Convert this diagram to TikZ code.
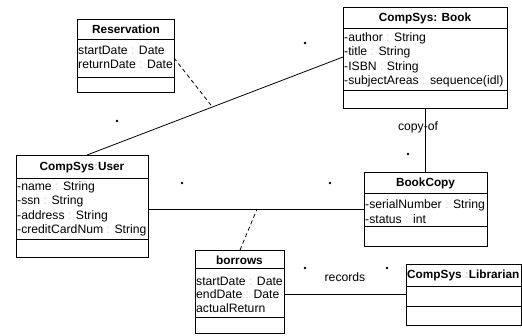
\documentclass[tikz,border=0pt]{standalone}
\usepackage{fontspec}
\setmainfont{Liberation Sans}
\usetikzlibrary{calc}
\newcommand\cln{\textcolor{gray!35}{:}}
\begin{document}
\begin{tikzpicture}[x=1pt,y=-1pt,
  classbox/.style={draw, line width=0.9pt, anchor=north west, inner sep=0pt, outer sep=0pt},
  ttl/.style={font=\fontsize{11.8}{13}\selectfont\bfseries, inner sep=0pt},
  attr/.style={font=\fontsize{12.2}{13}\selectfont, anchor=west, inner sep=0pt},
  lbl/.style={font=\fontsize{12.2}{13}\selectfont, inner sep=0pt},
  conn/.style={line width=0.8pt},
  assocdash/.style={line width=0.8pt, dash pattern=on 4pt off 3pt},
  mult/.style={circle, fill, inner sep=0pt, minimum size=2.6pt}]
\useasboundingbox (0,0) rectangle (522,335);
\fill[white] (0,0) rectangle (522,335);

% Reservation
\node[classbox, minimum width=97pt, minimum height=73pt] (res) at (77,19) {};
\draw[line width=0.9pt] ($(res.north west)+(0,20)$) -- ($(res.north east)+(0,20)$);
\draw[line width=0.9pt] ($(res.north west)+(0,58)$) -- ($(res.north east)+(0,58)$);
\node[ttl] (resT) at (126,29) {Reservation};
\node[attr] (resA1) at (78,50) {startDate \cln{} Date};
\node[attr] (resA2) at (78,64.5) {returnDate \cln{} Date};

% Book
\node[classbox, minimum width=164pt, minimum height=101pt] (book) at (343,7) {};
\draw[line width=0.9pt] ($(book.north west)+(0,21)$) -- ($(book.north east)+(0,21)$);
\draw[line width=0.9pt] ($(book.north west)+(0,83)$) -- ($(book.north east)+(0,83)$);
\node[ttl] (bookT) at (425,18) {CompSys: Book};
\node[attr] (bookA1) at (344,38) {-author \cln{} String};
\node[attr] (bookA2) at (344,52.5) {-title \cln{} String};
\node[attr] (bookA3) at (344,67) {-ISBN \cln{} String};
\node[attr] (bookA4) at (344,81.5) {-subjectAreas \cln{} sequence(idl)};

% User
\node[classbox, minimum width=132pt, minimum height=102pt] (user) at (16,155) {};
\draw[line width=0.9pt] ($(user.north west)+(0,23)$) -- ($(user.north east)+(0,23)$);
\draw[line width=0.9pt] ($(user.north west)+(0,84)$) -- ($(user.north east)+(0,84)$);
\node[ttl] (userT) at (82,168) {CompSys\cln{}User};
\node[attr] (userA1) at (17,187) {-name \cln{} String};
\node[attr] (userA2) at (17,201.5) {-ssn \cln{} String};
\node[attr] (userA3) at (17,216) {-address \cln{} String};
\node[attr] (userA4) at (17,230.5) {-creditCardNum \cln{} String};

% BookCopy
\node[classbox, minimum width=123pt, minimum height=74pt] (bc) at (364,172) {};
\draw[line width=0.9pt] ($(bc.north west)+(0,21)$) -- ($(bc.north east)+(0,21)$);
\draw[line width=0.9pt] ($(bc.north west)+(0,54)$) -- ($(bc.north east)+(0,54)$);
\node[ttl] (bcT) at (425.5,183) {BookCopy};
\node[attr] (bcA1) at (365,205) {-serialNumber \cln{} String};
\node[attr] (bcA2) at (365,219) {-status \cln{} int};

% borrows
\node[classbox, minimum width=89pt, minimum height=83pt] (bor) at (195,250) {};
\draw[line width=0.9pt] ($(bor.north west)+(0,18)$) -- ($(bor.north east)+(0,18)$);
\draw[line width=0.9pt] ($(bor.north west)+(0,67)$) -- ($(bor.north east)+(0,67)$);
\node[ttl] (borT) at (239.5,260) {borrows};
\node[attr] (borA1) at (196,281) {startDate \cln{} Date};
\node[attr] (borA2) at (196,294.5) {endDate \cln{} Date};
\node[attr] (borA3) at (196,308) {actualReturn};

% Librarian
\node[classbox, minimum width=115pt, minimum height=61pt] (lib) at (406,264) {};
\draw[line width=0.9pt] ($(lib.north west)+(0,22)$) -- ($(lib.north east)+(0,22)$);
\draw[line width=0.9pt] ($(lib.north west)+(0,42)$) -- ($(lib.north east)+(0,42)$);
\node[ttl, anchor=west] (libT) at (407,275) {CompSys \cln{}Librarian};

% User -- Book association
\coordinate (ub1) at ($(user.north west)+(71,0)$);
\coordinate (ub2) at ($(book.north west)+(0,50)$);
\draw[conn] (ub1) -- (ub2);
\coordinate (resc) at ($(ub1)!0.49!(ub2)$);
\draw[assocdash] ($(res.north east)+(0,39)$) -- (resc);
\node[mult] (m1) at (117,121) {};
\node[mult] (m2) at (305,43) {};

% Book -- BookCopy
\coordinate (bb1) at ($(book.south west)+(82,0)$);
\draw[conn] (bb1) -- (bb1 |- bc.north);
\node[lbl] (copyof) at (418,127) {copy-of};
\node[mult] (m3) at (408,154) {};

% User -- BookCopy
\coordinate (uc1) at ($(user.north east)+(0,54)$);
\coordinate (uc2) at (bc.west |- uc1);
\draw[conn] (uc1) -- (uc2);
\coordinate (borc) at ($(uc1)!0.505!(uc2)$);
\draw[assocdash] ($(bor.north west)+(45,0)$) -- (borc);
\node[mult] (m4) at (182,183) {};
\node[mult] (m5) at (330,183) {};

% borrows -- Librarian
\coordinate (bl1) at ($(bor.north east)+(0,44)$);
\draw[conn] (bl1) -- (lib.west |- bl1);
\node[lbl] (records) at (345,277) {records};
\node[mult] (m6) at (305,268) {};
\node[mult] (m7) at (387,268) {};
\end{tikzpicture}
\end{document}
